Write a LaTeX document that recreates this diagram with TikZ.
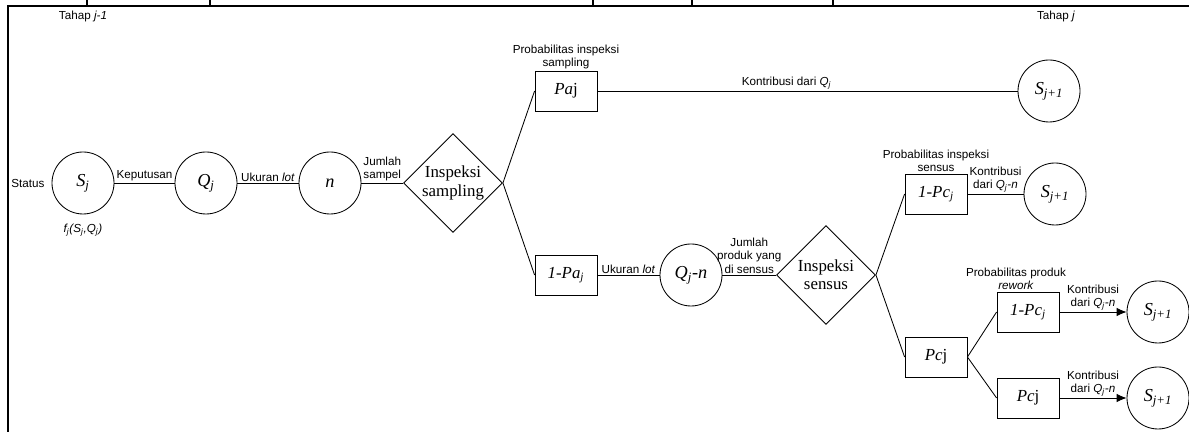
\documentclass[tikz,border=0pt]{standalone}
\usepackage{fontspec}
\setmainfont{Liberation Serif}
\setsansfont{Liberation Sans}
\usetikzlibrary{shapes.geometric,arrows.meta}

\newcommand{\vsub}[2]{\textit{#1}\textsubscript{\textit{#2}}}

\tikzset{
	state/.style={circle, draw, minimum size=1.55cm, inner sep=0pt, font=\fontsize{13}{15}\selectfont},
	prob/.style={rectangle, draw, minimum width=1.55cm, minimum height=1cm, inner sep=0pt, font=\fontsize{12}{14}\selectfont},
	inspeksi/.style={diamond, draw, minimum size=2.475cm, inner sep=0pt, align=center, font=\fontsize{12}{13}\selectfont},
	lbl/.style={font=\fontsize{8.3}{9.3}\sffamily, align=center, inner sep=1pt},
}

\begin{document}
\begin{tikzpicture}[line width=0.6pt]
	\useasboundingbox (0,0) rectangle (29.725,10.8);
	% frame of the page
	\draw[line width=2pt] (0.2,0) -- (0.2,10.65) -- (29.725,10.65);
	\foreach \x in {2.175, 5.25, 14.825, 17.3, 20.825}
		\draw[line width=1.2pt] (\x,10.65) -- (\x,10.8);

	\node[lbl] (tA) at (2.075, 10.4) {Tahap \textit{j-1}};
	\node[lbl] (tB) at (26.4, 10.4) {Tahap \textit{j}};

	% tahap j-1
	\node[lbl] (st) at (0.7, 6.225) {Status};
	\node[state] (Sj) at (2.075, 6.225) {\vsub{S}{j}};
	\node[lbl] (fj) at (2.075, 5.05) {\textit{f\textsubscript{j}(S\textsubscript{j},Q\textsubscript{j})}};
	\node[state] (Qj) at (5.15, 6.225) {\vsub{Q}{j}};
	\node[state] (n) at (8.25, 6.225) {\textit{n}};
	\node[inspeksi] (smp) at (11.325, 6.225) {Inspeksi\\sampling};

	\node[prob, label={[lbl]above:{Probabilitas inspeksi\\sampling}}] (paj) at (14.15, 8.525) {\textit{Pa}j};
	\node[prob] (npaj) at (14.15, 3.925) {\textit{1-Pa}\textsubscript{\textit{j}}};
	\node[state] (sA) at (26.225, 8.525) {\vsub{S}{j+1}};

	\node[state] (qn) at (17.275, 3.925) {\vsub{Q}{j}-\textit{n}};
	\node[inspeksi] (sns) at (20.65, 3.925) {Inspeksi\\sensus};

	% tahap j
	\node[prob, label={[lbl]above:{Probabilitas inspeksi\\sensus}}] (npcA) at (23.4, 5.95) {\textit{1-Pc}\textsubscript{\textit{j}}};
	\node[state] (sB) at (26.375, 5.95) {\vsub{S}{j+1}};
	\node[prob] (pcA) at (23.4, 1.875) {\textit{Pc}j};

	\node[prob, label={[lbl, xshift=-0.3cm]above:{Probabilitas produk\\\textit{rework}}}] (npcB) at (25.7, 3.0) {\textit{1-Pc}\textsubscript{\textit{j}}};
	\node[prob] (pcB) at (25.7, 0.85) {\textit{Pc}j};
	\node[state] (sC) at (28.95, 3.0) {\vsub{S}{j+1}};
	\node[state] (sD) at (28.95, 0.85) {\vsub{S}{j+1}};

	\draw (Sj) -- node[lbl, above] {Keputusan} (Qj);
	\draw (Qj) -- node[lbl, above] {Ukuran \textit{lot}} (n);
	\draw (n) -- node[lbl, above] {Jumlah\\sampel} (smp);
	\draw (smp.east) -- (paj.west);
	\draw (smp.east) -- (npaj.west);
	\draw (paj) -- node[lbl, above, pos=.45] {Kontribusi dari \textit{Q\textsubscript{j}}} (sA);
	\draw (npaj) -- node[lbl, above] {Ukuran \textit{lot}} (qn);
	\draw (qn) -- node[lbl, above] {Jumlah\\produk yang\\di sensus} (sns);
	\draw (sns.east) -- (npcA.west);
	\draw (sns.east) -- (pcA.west);
	\draw (npcA) -- node[lbl, above] {Kontribusi\\dari \textit{Q\textsubscript{j}-n}} (sB);
	\draw (pcA.east) -- (npcB.west);
	\draw (pcA.east) -- (pcB.west);
	\draw[-{Latex[length=7pt, width=6pt]}] (npcB) -- node[lbl, above] {Kontribusi\\dari \textit{Q\textsubscript{j}-n}} (sC);
	\draw[-{Latex[length=7pt, width=6pt]}] (pcB) -- node[lbl, above] {Kontribusi\\dari \textit{Q\textsubscript{j}-n}} (sD);
\end{tikzpicture}
\end{document}
